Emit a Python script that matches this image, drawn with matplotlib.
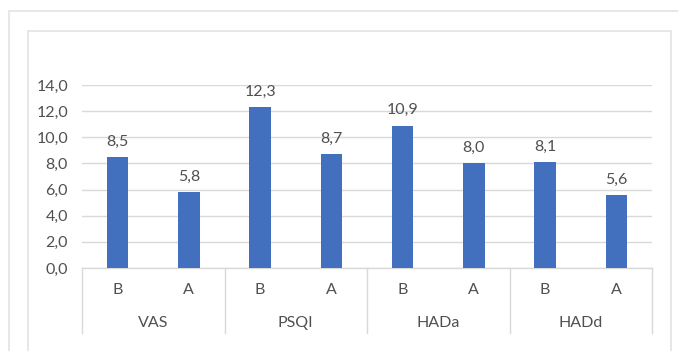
import matplotlib.pyplot as plt
from matplotlib.patches import Rectangle

# scores before (B) and after (A), per scale
groups = ['VAS', 'PSQI', 'HADa', 'HADd']
phases = ['B', 'A']
values = [8.5, 5.8, 12.3, 8.7, 10.9, 8.0, 8.1, 5.6]
y_ticks = [0, 2, 4, 6, 8, 10, 12, 14]

bar_color = '#4270BE'
text_color = '#505050'
grid_color = '#D9D9D9'

plt.rcParams['font.family'] = ['Lato', 'DejaVu Sans']
fs = 11.5

W, H = 678, 351
fig = plt.figure(figsize=(W / 100, H / 100), dpi=100)

# outer and inner frames (pixel coords -> figure coords)
def frame(x0, y0, x1, y1):
    fig.add_artist(Rectangle((x0 / W, 1 - y1 / H), (x1 - x0) / W, (y1 - y0) / H,
                             transform=fig.transFigure, fill=False,
                             edgecolor='#E3E3E3', linewidth=1.2))

frame(9, 11, 700, 400)
frame(28, 31, 671, 400)

ax = fig.add_axes([82 / W, 1 - 268 / H, (652 - 82) / W, (268 - 85) / H])
ax.set_xlim(0, len(values))
ax.set_ylim(0, 14)

x = [i + 0.5 for i in range(len(values))]
ax.bar(x, values, width=0.30, color=bar_color, zorder=3)
for xi, v in zip(x, values):
    ax.annotate(f'{v:.1f}'.replace('.', ','), (xi, v), xytext=(0, 6),
                textcoords='offset points', ha='center', va='bottom',
                fontsize=fs, color=text_color)

ax.set_yticks(y_ticks)
ax.set_yticklabels([f'{t:.1f}'.replace('.', ',') for t in y_ticks],
                   fontsize=fs, color=text_color)
ax.tick_params(axis='y', length=0, pad=10)
ax.set_xticks([])
ax.grid(axis='y', color=grid_color, linewidth=1, zorder=0)
for s in ['top', 'right', 'left']:
    ax.spines[s].set_visible(False)
ax.spines['bottom'].set_color(grid_color)
ax.spines['bottom'].set_linewidth(1)

# two-level category axis: phase letters, scale names, separators
trans = ax.get_xaxis_transform()
sep_bottom = -(333 - 268) / (268 - 85)
for i, xi in enumerate(x):
    ax.text(xi, -(290 - 268) / (268 - 85), phases[i % 2], transform=trans,
            ha='center', va='center', fontsize=fs, color=text_color)
for g, name in enumerate(groups):
    ax.text(2 * g + 1, -(323 - 268) / (268 - 85), name, transform=trans,
            ha='center', va='center', fontsize=fs, color=text_color)
for g in range(len(groups) + 1):
    ax.plot([2 * g, 2 * g], [0, sep_bottom], transform=trans, clip_on=False,
            color=grid_color, linewidth=1)

fig.savefig('out.png', dpi=100)
